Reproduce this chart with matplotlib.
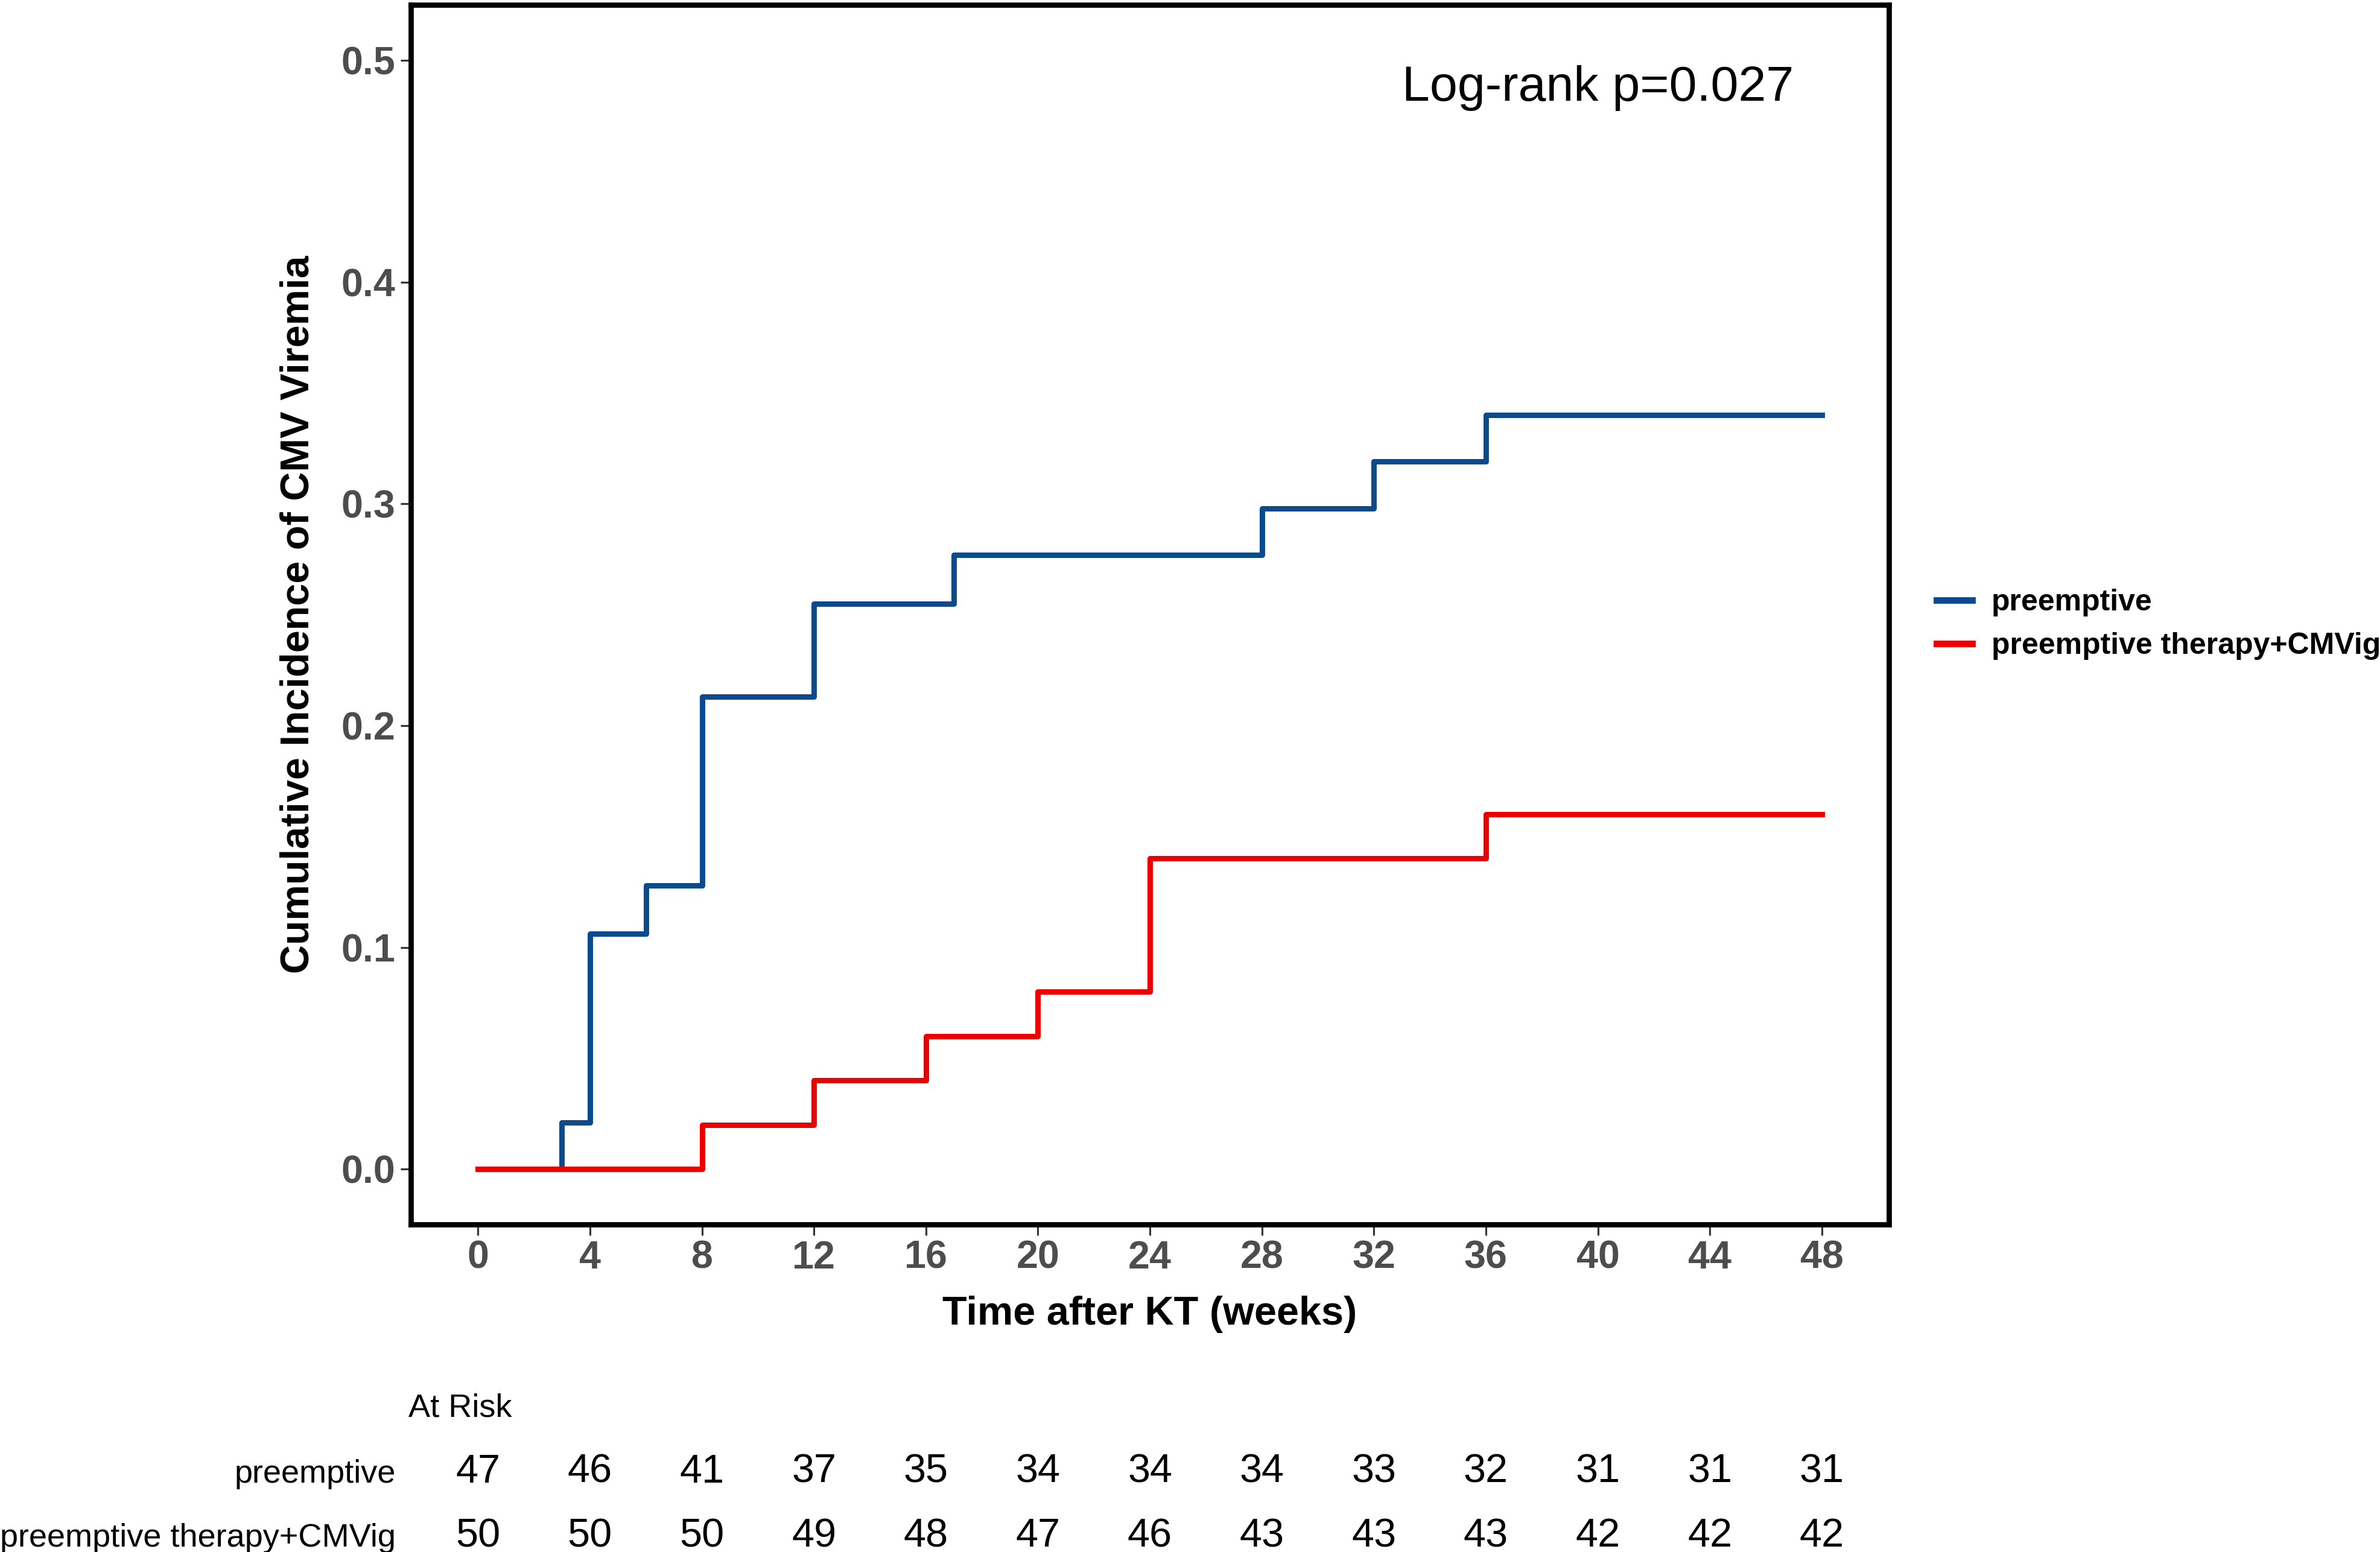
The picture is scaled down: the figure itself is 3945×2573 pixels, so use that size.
import matplotlib
matplotlib.use("Agg")
import matplotlib.pyplot as plt
from matplotlib.lines import Line2D
from matplotlib.transforms import blended_transform_factory

plt.rcParams['font.family'] = ['Liberation Sans', 'DejaVu Sans']

# cumulative incidence steps
groups = ["preemptive", "preemptive therapy+CMVig"]
pre_time = [0, 3, 4, 6, 8, 12, 17, 28, 32, 36, 48]
pre_inc = [0, 0.021, 0.106, 0.128, 0.213, 0.255, 0.277, 0.298, 0.319, 0.340, 0.340]
ig_time = [0, 8, 12, 16, 20, 24, 36, 48]
ig_inc = [0, 0.02, 0.04, 0.06, 0.08, 0.14, 0.16, 0.16]

# numbers at risk
risk_time = [0, 4, 8, 12, 16, 20, 24, 28, 32, 36, 40, 44, 48]
risk_pre = [47, 46, 41, 37, 35, 34, 34, 34, 33, 32, 31, 31, 31]
risk_ig = [50, 50, 50, 49, 48, 47, 46, 43, 43, 43, 42, 42, 42]

y_ticks = [0.0, 0.1, 0.2, 0.3, 0.4, 0.5]
pval_text = "Log-rank p=0.027"

blue = "#0B4A8C"
red = "#EC0000"
tick_grey = "#4D4D4D"

fig = plt.figure(figsize=(13.15, 8.5767), dpi=300)
ax = fig.add_axes([0.1726, 0.2110, 0.6211, 0.7859])

ax.step(pre_time, pre_inc, where="post", color=blue, lw=2.15)
ax.step(ig_time, ig_inc, where="post", color=red, lw=2.15)

ax.set_xlim(-2.4, 50.4)
ax.set_ylim(-0.025, 0.525)
ax.set_xticks(risk_time)
ax.set_xticklabels([str(t) for t in risk_time])
ax.set_yticks(y_ticks)
ax.set_yticklabels(["%.1f" % v for v in y_ticks])

for s in ax.spines.values():
    s.set_linewidth(2.1)
    s.set_color("black")
ax.tick_params(length=4.2, width=0.75, color="#333333", pad=2,
               labelsize=15.5, labelcolor=tick_grey)
for lab in ax.get_xticklabels() + ax.get_yticklabels():
    lab.set_fontweight("bold")

ax.set_xlabel("Time after KT (weeks)", fontsize=16, fontweight="bold", va="center")
ax.xaxis.set_label_coords(0.5, -0.0737)
ax.set_ylabel("Cumulative Incidence of CMV Viremia", fontsize=16,
              fontweight="bold", va="center")
ax.yaxis.set_label_coords(-0.0760, 0.5)

ax.text(40, 0.4818, pval_text, ha="center", va="baseline", fontsize=19.8)

handles = [Line2D([], [], color=blue, lw=2.6), Line2D([], [], color=red, lw=2.6)]
fig.legend(handles, groups, loc="center left", bbox_to_anchor=(0.8137, 0.5977),
           frameon=False, borderpad=0, borderaxespad=0, handlelength=1.18,
           handletextpad=0.64, labelspacing=0.52,
           prop={"weight": "bold", "size": 12})

# at-risk table under the plot
trans = blended_transform_factory(ax.transData, fig.transFigure)
fig.text(0.1716, 0.0874, "At Risk", ha="left", va="baseline", fontsize=13)
rows = [(groups[0], risk_pre, 0.0447), (groups[1], risk_ig, 0.0035)]
for name, counts, yb in rows:
    fig.text(0.1663, yb, name, ha="right", va="baseline", fontsize=13)
    for t, n in zip(risk_time, counts):
        fig.text(t, yb, str(n), transform=trans, ha="center", va="baseline",
                 fontsize=16)

fig.savefig("out.png", dpi=300)
